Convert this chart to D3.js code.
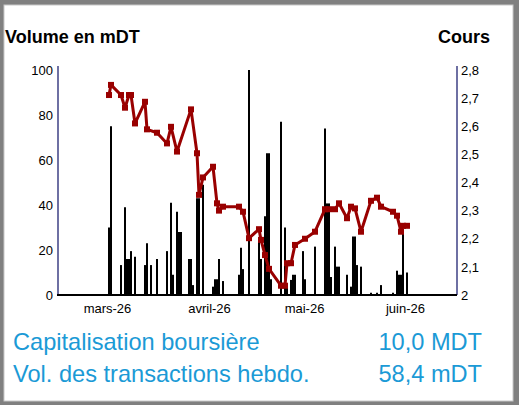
<!DOCTYPE html>
<html>
<head>
<meta charset="utf-8">
<script src="https://cdn.jsdelivr.net/npm/d3@7"></script>
<style>
  html, body { margin: 0; padding: 0; background: #fff; }
  svg { display: block; font-family: "Liberation Sans", Arial, sans-serif; }
</style>
</head>
<body>
<svg id="chart" width="519" height="405"></svg>
<script>
// Trading sessions (index along the axis) with their weekly-report volume in mDT
const volSessions = [25, 26, 31, 33, 34, 35, 36, 38, 43, 44, 46, 49, 54, 56, 57, 59, 60, 61, 65, 66, 67, 69, 70, 72,
  77, 78, 79, 80, 82, 90, 91, 92, 95, 100, 101, 103, 104, 105, 106, 111, 113, 114, 116, 117, 118, 122, 123, 128,
  133, 134, 135, 136, 138, 139, 140, 144, 146, 147, 148, 149, 151, 156, 159, 161, 167, 169, 170, 171, 172, 174];
const volumes = [30, 75, 13.3, 39, 16, 16, 19.5, 17, 13.3, 23, 13.3, 16, 19.5, 41, 9, 37, 28, 28, 16, 16, 4.4, 43, 43, 49,
  3.7, 7, 7, 16, 6.2, 9, 21, 11.5, 100, 24, 16, 35, 63, 63, 7, 77, 30, 3.7, 6.7, 9, 9, 19.5, 7, 21.5,
  74, 40.7, 40.7, 8, 21.5, 12.6, 12.6, 9, 3.7, 26, 26, 13.3, 12.6, 1, 1, 4.4, 1, 10.8, 9, 9, 29, 10];

// Closing price (Cours) per session
const priceSessions = [25, 26, 31, 33, 35, 36, 38, 43, 44, 49, 54, 56, 59, 66, 69, 70, 72, 77, 79, 80, 82, 90, 92, 95,
  100, 101, 103, 105, 111, 113, 114, 116, 118, 123, 128, 133, 135, 138, 140, 144, 146, 148, 151, 156, 159, 161,
  167, 169, 171, 172, 174];
const prices = [2.711, 2.747, 2.711, 2.666, 2.711, 2.711, 2.610, 2.687, 2.589, 2.577, 2.539, 2.598, 2.510, 2.660,
  2.504, 2.356, 2.418, 2.456, 2.326, 2.300, 2.314, 2.314, 2.296, 2.202, 2.234, 2.196, 2.142, 2.093, 2.033, 2.033,
  2.113, 2.113, 2.178, 2.200, 2.225, 2.305, 2.305, 2.305, 2.326, 2.273, 2.314, 2.308, 2.225, 2.335, 2.346, 2.314,
  2.296, 2.282, 2.225, 2.246, 2.246];

// Month labels and the session where each one sits
const monthLabels = ["mars-26", "avril-26", "mai-26", "juin-26"];
const monthSessions = [24.5, 75.5, 123, 173.5];

const volTicks = [0, 20, 40, 60, 80, 100];
const priceTicks = [2, 2.1, 2.2, 2.3, 2.4, 2.5, 2.6, 2.7, 2.8];

const summaryLabels = ["Capitalisation boursière", "Vol. des transactions hebdo."];
const summaryValues = ["10,0 MDT", "58,4 mDT"];

const svg = d3.select("#chart");
const W = 519, H = 405;

// frame
svg.append("rect").attr("width", W).attr("height", H).attr("fill", "#808080");
svg.append("rect").attr("x", 4).attr("y", 5).attr("width", 509).attr("height", 396)
  .attr("fill", "#fff").attr("stroke", "#c8c8c8").attr("stroke-width", 1);

const plotLeft = 58, plotRight = 457, plotTop = 70, plotBottom = 295;

const x = d3.scaleLinear().domain([0, 199.5]).range([plotLeft, plotRight]);
const yVol = d3.scaleLinear().domain([0, 100]).range([plotBottom, plotTop]);
const yPrice = d3.scaleLinear().domain([2, 2.8]).range([plotBottom, plotTop]);

// titles
svg.append("text").attr("x", 5).attr("y", 43).attr("font-size", 18).attr("font-weight", "bold")
  .attr("fill", "#000").text("Volume en mDT");
svg.append("text").attr("x", 490).attr("y", 43).attr("font-size", 18).attr("font-weight", "bold")
  .attr("text-anchor", "end").attr("fill", "#000").text("Cours");

// volume bars
const bars = volSessions.map((s, k) => ({ s, v: volumes[k] }));
svg.append("g").selectAll("rect").data(bars).join("rect")
  .attr("x", d => x(d.s))
  .attr("width", d => x(d.s + 1) - x(d.s))
  .attr("y", d => yVol(d.v))
  .attr("height", d => yVol(0) - yVol(d.v))
  .attr("fill", "#000");

// left axis
const axL = svg.append("g").attr("transform", `translate(${plotLeft},0)`)
  .call(d3.axisLeft(yVol).tickValues(volTicks).tickSize(0).tickPadding(5).tickFormat(d3.format("d")));
axL.select(".domain").remove();
axL.selectAll("text").attr("font-size", 13).attr("font-family", "Liberation Sans, Arial, sans-serif").attr("fill", "#000");
svg.append("line").attr("x1", plotLeft).attr("x2", plotLeft).attr("y1", plotTop - 4).attr("y2", plotBottom)
  .attr("stroke", "#3e4185").attr("stroke-width", 1.5);

// right axis
const axR = svg.append("g").attr("transform", `translate(${plotRight},0)`)
  .call(d3.axisRight(yPrice).tickValues(priceTicks).tickSize(0).tickPadding(4)
    .tickFormat(d => d === 2 ? "2" : d.toFixed(1).replace(".", ",")));
axR.select(".domain").remove();
axR.selectAll("text").attr("font-size", 13).attr("font-family", "Liberation Sans, Arial, sans-serif").attr("fill", "#000");
svg.append("line").attr("x1", plotRight).attr("x2", plotRight).attr("y1", plotTop - 4).attr("y2", plotBottom)
  .attr("stroke", "#3e4185").attr("stroke-width", 1.5);

// bottom axis
const axB = svg.append("g").attr("transform", `translate(0,${plotBottom})`)
  .call(d3.axisBottom(x).tickValues(monthSessions).tickSize(0).tickPadding(9)
    .tickFormat((d, k) => monthLabels[k]));
axB.select(".domain").remove();
axB.selectAll("text").attr("font-size", 13).attr("font-family", "Liberation Sans, Arial, sans-serif").attr("fill", "#000");
svg.append("line").attr("x1", plotLeft - 1).attr("x2", plotRight).attr("y1", plotBottom).attr("y2", plotBottom)
  .attr("stroke", "#000").attr("stroke-width", 2);

// price line with square markers
const pts = priceSessions.map((s, k) => ({ s, p: prices[k] }));
const line = d3.line().x(d => x(d.s + 0.5)).y(d => yPrice(d.p));
svg.append("path").datum(pts).attr("d", line)
  .attr("fill", "none").attr("stroke", "#990000").attr("stroke-width", 3).attr("stroke-linejoin", "round");
svg.append("g").selectAll("rect").data(pts).join("rect")
  .attr("x", d => x(d.s + 0.5) - 3).attr("y", d => yPrice(d.p) - 3)
  .attr("width", 6).attr("height", 6).attr("fill", "#990000");

// summary figures
const blue = "#1b9ad6";
summaryLabels.forEach((t, k) => {
  svg.append("text").attr("x", 13).attr("y", 350 + k * 32).attr("font-size", 23.6).attr("fill", blue).text(t);
  svg.append("text").attr("x", 482).attr("y", 350 + k * 32).attr("font-size", 23.6).attr("fill", blue)
    .attr("text-anchor", "end").text(summaryValues[k]);
});
</script>
</body>
</html>
